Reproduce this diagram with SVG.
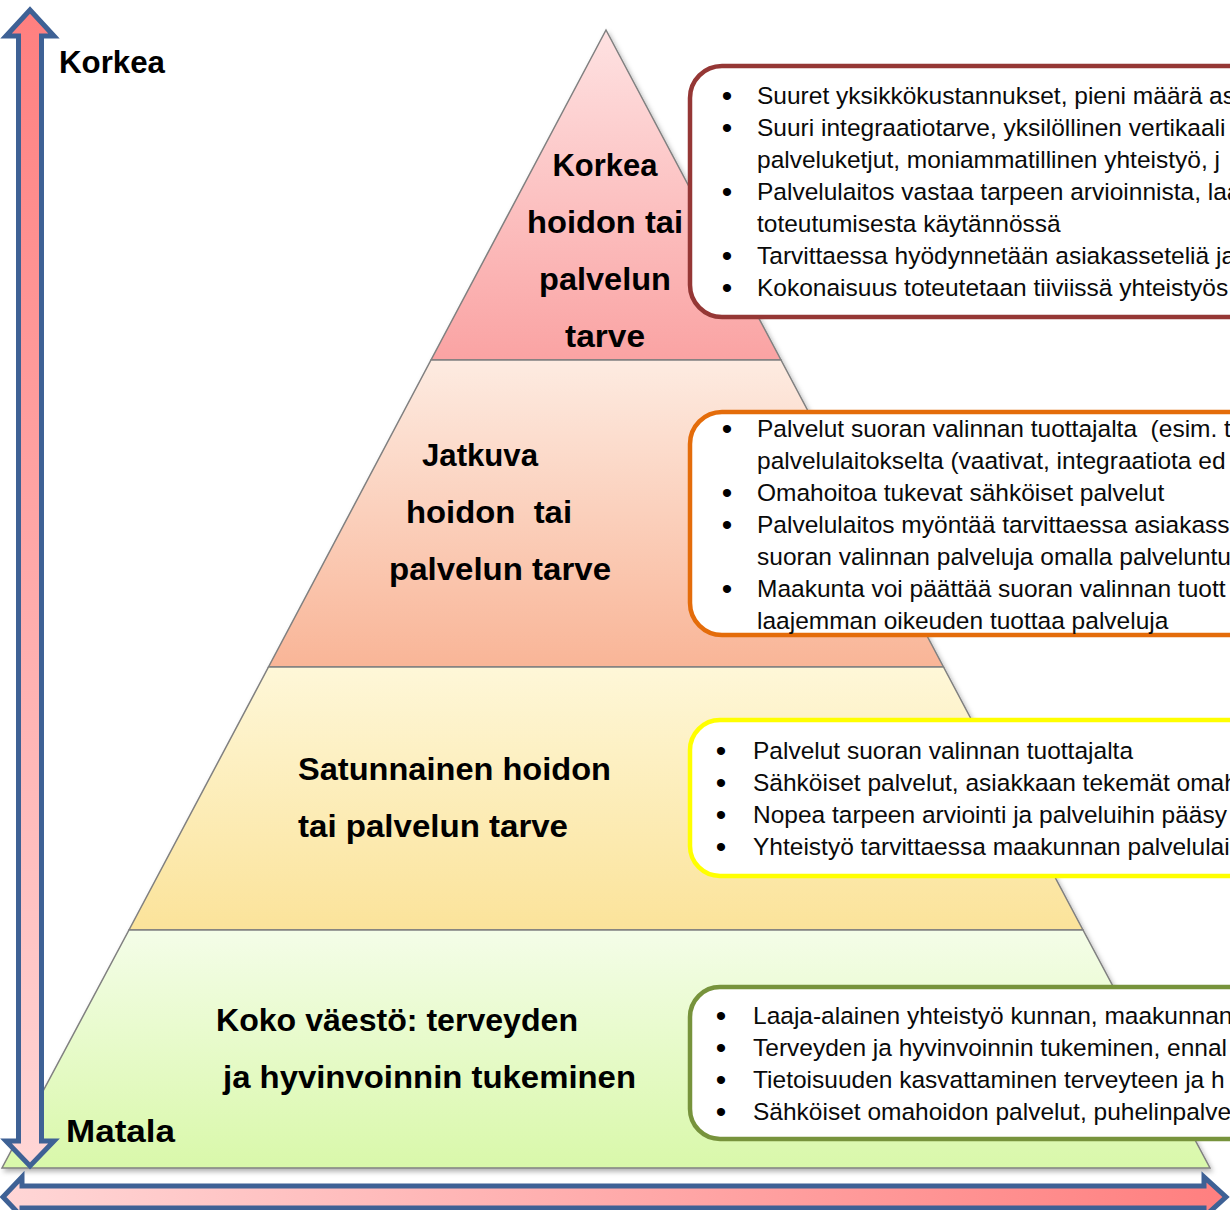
<svg xmlns="http://www.w3.org/2000/svg" width="1230" height="1210" viewBox="0 0 1230 1210">
<style>
.lbl{font-family:"Liberation Sans",Arial,sans-serif;font-weight:bold;font-size:32px;fill:#000}
.txt{font-family:"Liberation Sans",Arial,sans-serif;font-size:24.5px;fill:#0a0a0a}
.bul{font-family:"Liberation Sans",Arial,sans-serif;font-size:30px;fill:#000;text-anchor:middle}
.band{stroke:#808080;stroke-width:1.5}
.box{fill:#fff;stroke-width:4.5}
.arrow{stroke:#3e6195;stroke-width:5;stroke-linejoin:miter}
</style>
<defs>
<linearGradient id="g1" x1="0" y1="0" x2="0" y2="1"><stop offset="0" stop-color="#fee2e2"/><stop offset="1" stop-color="#faa3a3"/></linearGradient>
<linearGradient id="g2" x1="0" y1="0" x2="0" y2="1"><stop offset="0" stop-color="#fdebe1"/><stop offset="1" stop-color="#f9b597"/></linearGradient>
<linearGradient id="g3" x1="0" y1="0" x2="0" y2="1"><stop offset="0" stop-color="#fef7d8"/><stop offset="1" stop-color="#fbe39a"/></linearGradient>
<linearGradient id="g4" x1="0" y1="0" x2="0" y2="1"><stop offset="0" stop-color="#f4fde8"/><stop offset="1" stop-color="#d9f8aa"/></linearGradient>
<linearGradient id="gv" x1="0" y1="0" x2="0" y2="1"><stop offset="0" stop-color="#ff7f7f"/><stop offset="1" stop-color="#ffd6d6"/></linearGradient>
<linearGradient id="gh" x1="0" y1="0" x2="1" y2="0"><stop offset="0" stop-color="#ffd6d6"/><stop offset="1" stop-color="#ff7f7f"/></linearGradient>
<filter id="sh" x="-5%" y="-5%" width="110%" height="110%"><feDropShadow dx="2" dy="3" stdDeviation="2.5" flood-color="#000" flood-opacity="0.3"/></filter>
</defs>

<g id="pyramid" filter="url(#sh)">
<g id="band-top"><polygon class="band" fill="url(#g1)" points="606,30 781,360 431,360"/></g>
<g id="band-2"><polygon class="band" fill="url(#g2)" points="431,360 781,360 943.5,667 268.5,667"/></g>
<g id="band-3"><polygon class="band" fill="url(#g3)" points="268.5,667 943.5,667 1083,930 129,930"/></g>
<g id="band-4"><polygon class="band" fill="url(#g4)" points="129,930 1083,930 1210,1168 2,1168"/></g>
</g>

<g id="labels-pyramid">
<text class="lbl" x="605" y="176" text-anchor="middle" textLength="105" lengthAdjust="spacingAndGlyphs">Korkea</text>
<text class="lbl" x="605" y="233" text-anchor="middle" textLength="156" lengthAdjust="spacingAndGlyphs">hoidon tai</text>
<text class="lbl" x="605" y="290" text-anchor="middle" textLength="132" lengthAdjust="spacingAndGlyphs">palvelun</text>
<text class="lbl" x="605" y="347" text-anchor="middle" textLength="80" lengthAdjust="spacingAndGlyphs">tarve</text>
<text class="lbl" x="422" y="466" textLength="116" lengthAdjust="spacingAndGlyphs">Jatkuva</text>
<text class="lbl" x="406" y="523" textLength="166" lengthAdjust="spacingAndGlyphs" xml:space="preserve">hoidon  tai</text>
<text class="lbl" x="389" y="580" textLength="222" lengthAdjust="spacingAndGlyphs">palvelun tarve</text>
<text class="lbl" x="298" y="780" textLength="313" lengthAdjust="spacingAndGlyphs">Satunnainen hoidon</text>
<text class="lbl" x="298" y="837" textLength="270" lengthAdjust="spacingAndGlyphs">tai palvelun tarve</text>
<text class="lbl" x="216" y="1031" textLength="362" lengthAdjust="spacingAndGlyphs">Koko väestö: terveyden</text>
<text class="lbl" x="223" y="1088" textLength="413" lengthAdjust="spacingAndGlyphs">ja hyvinvoinnin tukeminen</text>
</g>

<g id="box-red">
<rect class="box" stroke="#953735" x="690" y="66" width="620" height="251" rx="32"/>
<text class="bul" x="727" y="106">•</text><text class="txt" x="757" y="104">Suuret yksikkökustannukset, pieni määrä as</text>
<text class="bul" x="727" y="138">•</text><text class="txt" x="757" y="136">Suuri integraatiotarve, yksilöllinen vertikaali</text>
<text class="txt" x="757" y="168">palveluketjut, moniammatillinen yhteistyö, j</text>
<text class="bul" x="727" y="202">•</text><text class="txt" x="757" y="200">Palvelulaitos vastaa tarpeen arvioinnista, laa</text>
<text class="txt" x="757" y="232">toteutumisesta käytännössä</text>
<text class="bul" x="727" y="266">•</text><text class="txt" x="757" y="264">Tarvittaessa hyödynnetään asiakasseteliä ja,</text>
<text class="bul" x="727" y="298">•</text><text class="txt" x="757" y="296">Kokonaisuus toteutetaan tiiviissä yhteistyös</text>
</g>

<g id="box-orange">
<rect class="box" stroke="#e46c0a" x="690" y="412" width="620" height="223" rx="32"/>
<text class="bul" x="727" y="439">•</text><text class="txt" x="757" y="437" xml:space="preserve">Palvelut suoran valinnan tuottajalta  (esim. t</text>
<text class="txt" x="757" y="469">palvelulaitokselta (vaativat, integraatiota ed</text>
<text class="bul" x="727" y="503">•</text><text class="txt" x="757" y="501">Omahoitoa tukevat sähköiset palvelut</text>
<text class="bul" x="727" y="535">•</text><text class="txt" x="757" y="533">Palvelulaitos myöntää tarvittaessa asiakasse</text>
<text class="txt" x="757" y="565">suoran valinnan palveluja omalla palveluntu</text>
<text class="bul" x="727" y="599">•</text><text class="txt" x="757" y="597">Maakunta voi päättää suoran valinnan tuott</text>
<text class="txt" x="757" y="629">laajemman oikeuden tuottaa palveluja</text>
</g>

<g id="box-yellow">
<rect class="box" stroke="#ffff00" x="690" y="720" width="620" height="156" rx="30"/>
<text class="bul" x="721" y="761">•</text><text class="txt" x="753" y="759">Palvelut suoran valinnan tuottajalta</text>
<text class="bul" x="721" y="793">•</text><text class="txt" x="753" y="791">Sähköiset palvelut, asiakkaan tekemät omah</text>
<text class="bul" x="721" y="825">•</text><text class="txt" x="753" y="823">Nopea tarpeen arviointi ja palveluihin pääsy</text>
<text class="bul" x="721" y="857">•</text><text class="txt" x="753" y="855">Yhteistyö tarvittaessa maakunnan palvelulai</text>
</g>

<g id="box-green">
<rect class="box" stroke="#77933c" x="690" y="987" width="620" height="152" rx="30"/>
<text class="bul" x="721" y="1026">•</text><text class="txt" x="753" y="1024">Laaja-alainen yhteistyö kunnan, maakunnan,</text>
<text class="bul" x="721" y="1058">•</text><text class="txt" x="753" y="1056">Terveyden ja hyvinvoinnin tukeminen, ennal</text>
<text class="bul" x="721" y="1090">•</text><text class="txt" x="753" y="1088">Tietoisuuden kasvattaminen terveyteen ja h</text>
<text class="bul" x="721" y="1122">•</text><text class="txt" x="753" y="1120">Sähköiset omahoidon palvelut, puhelinpalve</text>
</g>

<g id="connectors">
<path class="arrow" fill="url(#gv)" d="M30,10 L54,36 L41.5,36 L41.5,1141 L54,1141 L30,1166 L6,1141 L18.5,1141 L18.5,36 L6,36 Z"/>
<path class="arrow" fill="url(#gh)" d="M3,1197 L22,1177 L22,1186 L1204,1186 L1204,1177 L1226,1197 L1204,1217 L1204,1208 L22,1208 L22,1217 Z"/>
</g>

<g id="axis-labels">
<text class="lbl" x="59" y="73" textLength="106" lengthAdjust="spacingAndGlyphs">Korkea</text>
<text class="lbl" x="66" y="1142" textLength="109" lengthAdjust="spacingAndGlyphs">Matala</text>
</g>
</svg>
